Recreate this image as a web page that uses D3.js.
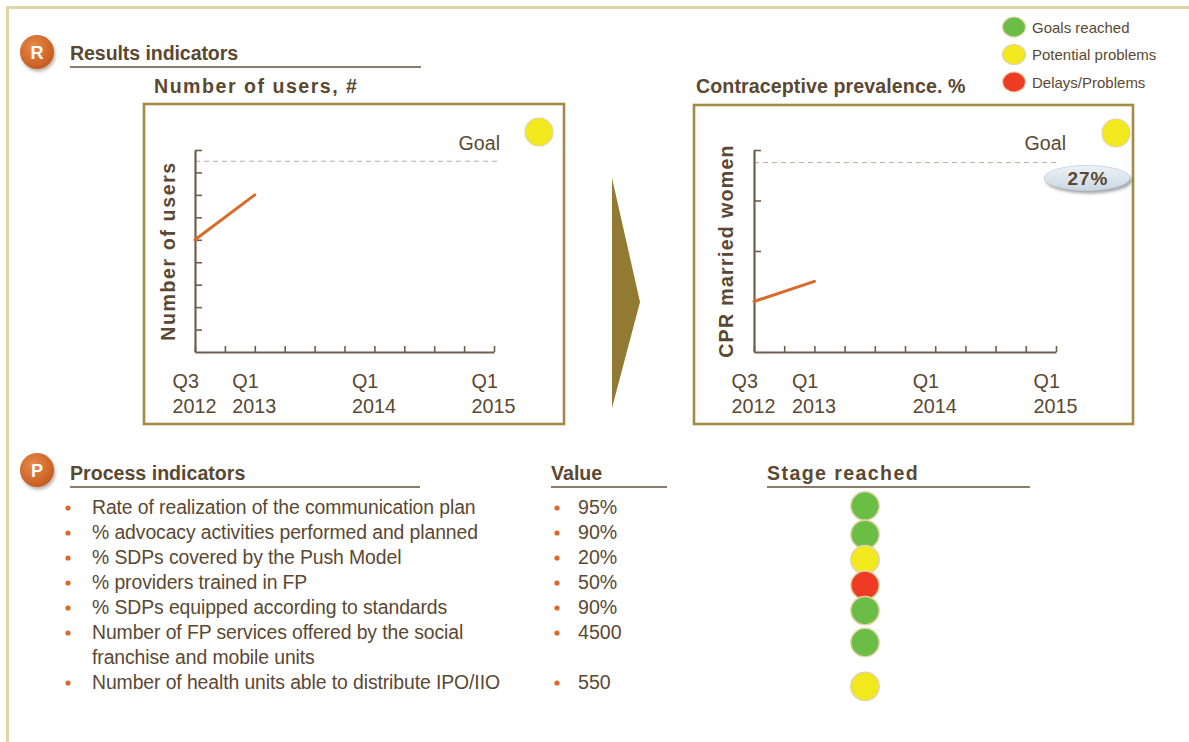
<!DOCTYPE html>
<html>
<head>
<meta charset="utf-8">
<script src="https://cdn.jsdelivr.net/npm/d3@7/dist/d3.min.js"></script>
<style>
  html, body { margin: 0; padding: 0; background: #ffffff; }
  svg { display: block; }
</style>
</head>
<body>
<svg id="board" width="1189" height="742"></svg>
<script>
// ---- Data -------------------------------------------------------------
const quarters = ["Q3 2012", "Q4 2012", "Q1 2013", "Q2 2013", "Q3 2013", "Q4 2013",
                  "Q1 2014", "Q2 2014", "Q3 2014", "Q4 2014", "Q1 2015"];
const labeledQuarters = ["Q3 2012", "Q1 2013", "Q1 2014", "Q1 2015"];

// Number of users (relative units)
const usersQuarters = ["Q3 2012", "Q1 2013"];
const usersValues = [5, 7];
const usersGoal = 8.5;
const usersTicks = [1, 2, 3, 4, 5, 6, 7, 8, 9];
const usersStatus = "potential";

// Contraceptive prevalence, %
const cprQuarters = ["Q3 2012", "Q1 2013"];
const cprValues = [16, 17.6];
const cprGoal = 27;
const cprTicks = [20, 24, 28];
const cprStatus = "potential";

// Traffic-light legend
const statusKeys = ["reached", "potential", "delay"];
const statusLabels = ["Goals reached", "Potential problems", "Delays/Problems"];
const statusColors = ["#6abd45", "#f1e81e", "#ee3b24"];

// Process indicators
const indicatorLabels = [
  ["Rate of realization of the communication plan"],
  ["% advocacy activities performed and planned"],
  ["% SDPs covered by the Push Model"],
  ["% providers trained in FP"],
  ["% SDPs equipped according to standards"],
  ["Number of FP services offered by the social", "franchise and mobile units"],
  ["Number of health units able to distribute IPO/IIO"]
];
const indicatorValues = ["95%", "90%", "20%", "50%", "90%", "4500", "550"];
const indicatorStatus = ["reached", "reached", "potential", "delay", "reached", "reached", "potential"];

// ---- Drawing ----------------------------------------------------------
const FONT = "'Liberation Sans', Arial, Helvetica, sans-serif";
const TEXT = "#5a4832";
const ORANGE = "#da6a2a";
const statusColor = d3.scaleOrdinal().domain(statusKeys).range(statusColors);

const svg = d3.select("#board");
const defs = svg.append("defs");

// gradients / filters
const badgeGrad = defs.append("radialGradient").attr("id", "badgeGrad")
  .attr("cx", "40%").attr("cy", "35%").attr("r", "70%");
badgeGrad.append("stop").attr("offset", "0%").attr("stop-color", "#e8894a");
badgeGrad.append("stop").attr("offset", "100%").attr("stop-color", "#c2591d");

const pillGrad = defs.append("linearGradient").attr("id", "pillGrad")
  .attr("x1", 0).attr("y1", 0).attr("x2", 0).attr("y2", 1);
pillGrad.append("stop").attr("offset", "0%").attr("stop-color", "#eef3f7");
pillGrad.append("stop").attr("offset", "100%").attr("stop-color", "#c9d7e2");

const soft = defs.append("filter").attr("id", "soft").attr("x", "-30%").attr("y", "-30%")
  .attr("width", "160%").attr("height", "160%");
soft.append("feGaussianBlur").attr("stdDeviation", 1.6);

// outer frame
svg.append("path")
  .attr("d", "M7.5,742V7.5H1189")
  .attr("fill", "none").attr("stroke", "#ddd5a8").attr("stroke-width", 3);

// section badge + heading helper
function badge(cx, cy, letter) {
  svg.append("circle").attr("cx", cx + 1.5).attr("cy", cy + 2.5).attr("r", 17)
    .attr("fill", "rgba(70,40,20,0.35)").attr("filter", "url(#soft)");
  svg.append("circle").attr("cx", cx).attr("cy", cy).attr("r", 17)
    .attr("fill", "url(#badgeGrad)");
  svg.append("text").attr("x", cx).attr("y", cy + 6.5)
    .attr("text-anchor", "middle").attr("font-family", FONT).attr("font-weight", "bold")
    .attr("font-size", 18).attr("fill", "#ffffff").text(letter);
}
function heading(x, y, x2, label, spacing) {
  svg.append("text").attr("x", x).attr("y", y)
    .attr("font-family", FONT).attr("font-weight", "bold").attr("font-size", 19.6)
    .attr("letter-spacing", spacing || 0).attr("fill", TEXT).text(label);
  svg.append("line").attr("x1", x).attr("x2", x2).attr("y1", y + 7).attr("y2", y + 7)
    .attr("stroke", "#8c7c6a").attr("stroke-width", 2);
}

badge(37, 52, "R");
heading(70, 60, 421, "Results indicators", -0.1);

// legend
const legend = svg.append("g");
statusKeys.forEach((k, i) => {
  const cy = 27 + i * 27.5;
  legend.append("ellipse").attr("cx", 1014).attr("cy", cy).attr("rx", 11.5).attr("ry", 10)
    .attr("fill", statusColor(k)).attr("stroke", "#e2d4a8").attr("stroke-width", 1.2);
  legend.append("text").attr("x", 1032).attr("y", cy + 5.5)
    .attr("font-family", FONT).attr("font-size", 15).attr("fill", TEXT)
    .text(statusLabels[i]);
});

// chart panels
const panels = [
  {
    box: [144, 104, 420, 320], xr: [195, 494], yr: [352, 150],
    title: "Number of users, #", titleX: 154, titleLS: 1.5,
    ylabel: "Number of users", ylabelX: 175, ylabelLS: 1.6,
    domain: [0, 9], ticks: usersTicks, q: usersQuarters, v: usersValues,
    goal: usersGoal, status: usersStatus, statusPos: [539, 132], goalLabelDx: 6, pill: null
  },
  {
    box: [694, 105, 439, 319], xr: [754, 1056], yr: [352, 150],
    title: "Contraceptive prevalence. %", titleX: 696, titleLS: 0.1,
    ylabel: "CPR married women", ylabelX: 733, ylabelLS: 1.3,
    domain: [12, 28], ticks: cprTicks, q: cprQuarters, v: cprValues,
    goal: cprGoal, status: cprStatus, statusPos: [1116, 133], goalLabelDx: 10,
    pill: [1087, 178]
  }
];

panels.forEach(p => {
  const g = svg.append("g");
  const [bx, by, bw, bh] = p.box;

  g.append("text").attr("x", p.titleX).attr("y", 93)
    .attr("font-family", FONT).attr("font-weight", "bold").attr("font-size", 19.6)
    .attr("letter-spacing", p.titleLS).attr("fill", TEXT).text(p.title);

  g.append("rect").attr("x", bx).attr("y", by).attr("width", bw).attr("height", bh)
    .attr("fill", "#ffffff").attr("stroke", "#a38b45").attr("stroke-width", 2.6);

  const x = d3.scalePoint().domain(quarters).range(p.xr);
  const y = d3.scaleLinear().domain(p.domain).range(p.yr);

  // goal reference
  g.append("line").attr("x1", p.xr[0]).attr("x2", p.xr[1] + 3)
    .attr("y1", y(p.goal)).attr("y2", y(p.goal))
    .attr("stroke", "#b8ab9d").attr("stroke-width", 1).attr("stroke-dasharray", "5,4");
  g.append("text").attr("x", p.xr[1] + p.goalLabelDx).attr("y", 150)
    .attr("text-anchor", "end").attr("font-family", FONT).attr("font-size", 19.6)
    .attr("fill", TEXT).text("Goal");

  // axes
  const yAxis = d3.axisLeft(y).tickValues(p.ticks).tickSize(-7).tickSizeOuter(0).tickFormat("");
  const xAxis = d3.axisBottom(x).tickSize(-6).tickSizeOuter(0).tickFormat("");
  const ya = g.append("g").attr("transform", `translate(${p.xr[0]},0)`).call(yAxis);
  const xa = g.append("g").attr("transform", `translate(0,${p.yr[0]})`).call(xAxis);
  [ya, xa].forEach(a => {
    a.select(".domain").attr("stroke", "#6e5f4f").attr("stroke-width", 2.2);
    a.selectAll(".tick line").attr("stroke", "#6e5f4f").attr("stroke-width", 1.6);
  });

  // quarter labels
  labeledQuarters.forEach(lq => {
    const [qq, yy] = lq.split(" ");
    const t = g.append("text").attr("font-family", FONT).attr("font-size", 19.8)
      .attr("fill", TEXT);
    t.append("tspan").attr("x", x(lq) - 22.5).attr("y", 388).text(qq);
    t.append("tspan").attr("x", x(lq) - 22.5).attr("y", 413).text(yy);
  });

  // axis title
  g.append("text")
    .attr("transform", `translate(${p.ylabelX},${251}) rotate(-90)`)
    .attr("text-anchor", "middle").attr("font-family", FONT).attr("font-weight", "bold")
    .attr("font-size", 19.6).attr("letter-spacing", p.ylabelLS).attr("fill", TEXT)
    .text(p.ylabel);

  // series line
  const pts = p.q.map((q, i) => [x(q), y(p.v[i])]);
  g.append("path").attr("d", d3.line()(pts))
    .attr("fill", "none").attr("stroke", ORANGE).attr("stroke-width", 3)
    .attr("stroke-linecap", "round");

  // status light
  g.append("circle").attr("cx", p.statusPos[0]).attr("cy", p.statusPos[1]).attr("r", 14)
    .attr("fill", statusColor(p.status)).attr("stroke", "#e2d4a8").attr("stroke-width", 1.2);

  // goal value pill
  if (p.pill) {
    const [cx, cy] = p.pill;
    g.append("ellipse").attr("cx", cx + 2).attr("cy", cy + 3).attr("rx", 43).attr("ry", 12.5)
      .attr("fill", "rgba(60,60,70,0.45)").attr("filter", "url(#soft)");
    g.append("ellipse").attr("cx", cx).attr("cy", cy).attr("rx", 43).attr("ry", 12.5)
      .attr("fill", "url(#pillGrad)").attr("stroke", "#c3d0da").attr("stroke-width", 0.8);
    g.append("text").attr("x", cx + 1).attr("y", cy + 6.5).attr("text-anchor", "middle")
      .attr("font-family", FONT).attr("font-weight", "bold").attr("font-size", 19)
      .attr("letter-spacing", 1).attr("fill", TEXT).text(p.goal + "%");
  }
});

// arrow between the two panels
svg.append("path").attr("d", "M612,178L640,302L612,408Z").attr("fill", "#927a32");

// ---- Process section --------------------------------------------------
badge(37, 470, "P");
heading(70, 480, 420, "Process indicators", 0);
heading(551, 480, 667, "Value", 0);
heading(767, 480, 1030, "Stage reached", 1.4);

// line index of the first line of each indicator
const lineStart = [];
indicatorLabels.reduce((acc, lines, i) => { lineStart[i] = acc; return acc + lines.length; }, 0);
const rowY = d3.scaleLinear().domain([0, 1]).range([507, 532]);

const rows = svg.append("g");
indicatorLabels.forEach((lines, i) => {
  const y0 = rowY(lineStart[i]);
  rows.append("circle").attr("cx", 68).attr("cy", y0 + 1).attr("r", 2.6).attr("fill", ORANGE);
  lines.forEach((ln, j) => {
    rows.append("text").attr("x", 92).attr("y", rowY(lineStart[i] + j) + 7)
      .attr("font-family", FONT).attr("font-size", 19.4).attr("letter-spacing", -0.1)
      .attr("fill", TEXT).text(ln);
  });
  rows.append("circle").attr("cx", 557).attr("cy", y0 + 1).attr("r", 2.6).attr("fill", ORANGE);
  rows.append("text").attr("x", 578).attr("y", y0 + 7)
    .attr("font-family", FONT).attr("font-size", 19.6).attr("fill", TEXT)
    .text(indicatorValues[i]);

  // stage light, slightly raised for two-line items
  const mid = lineStart[i] + (lines.length - 1) / 2;
  const lift = lines.length > 1 ? 6 : 0;
  rows.append("circle").attr("cx", 865)
    .attr("cy", rowY(mid) + (i === 0 ? -1 : 2) + i * 0.4 - lift)
    .attr("r", 14.2).attr("fill", statusColor(indicatorStatus[i]))
    .attr("stroke", "#e2d4a8").attr("stroke-width", 1.5);
});
</script>
</body>
</html>
